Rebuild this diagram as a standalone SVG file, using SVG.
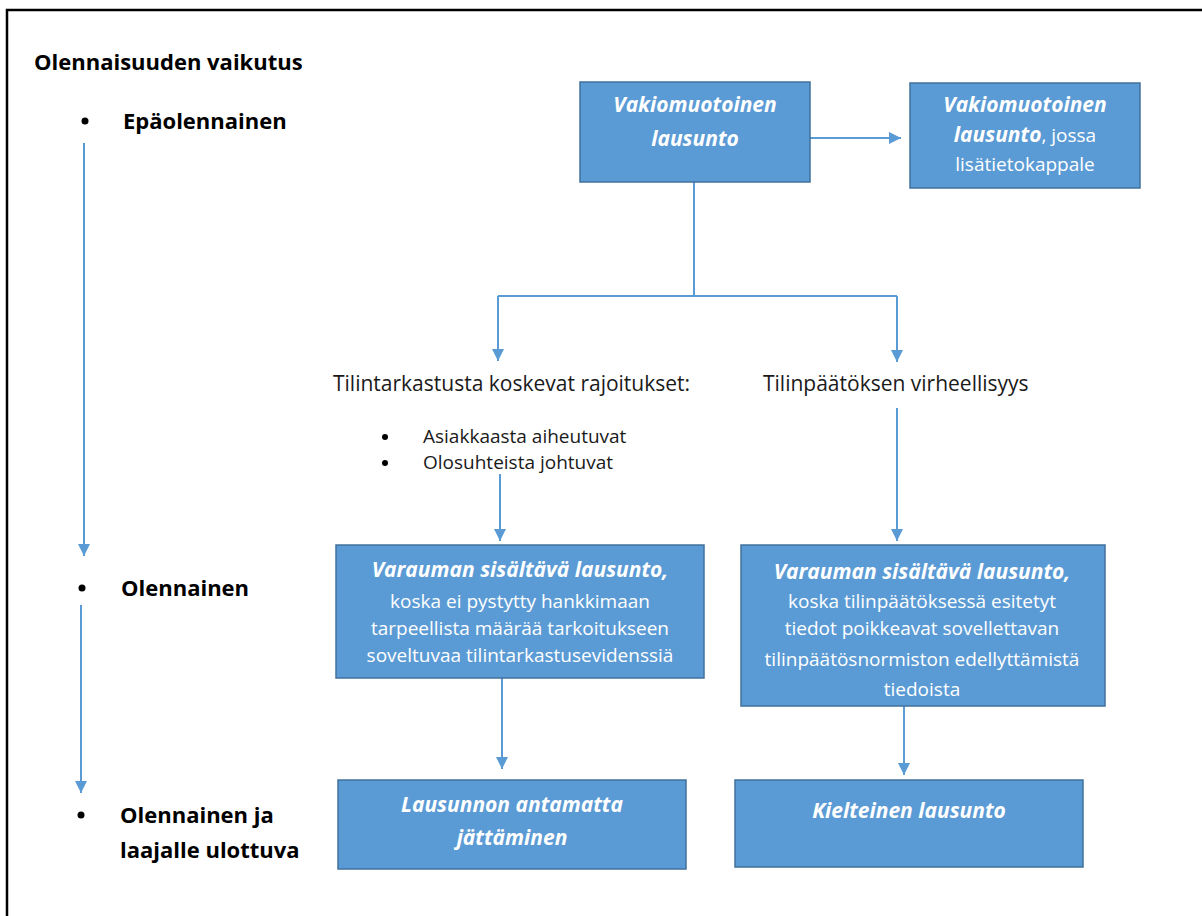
<svg xmlns="http://www.w3.org/2000/svg" width="1202" height="916" viewBox="0 0 1202 916">
<style>
.box{fill:#5B9BD5;stroke:#41719C;stroke-width:1.5}
.bt{font-family:"Open Sans","Liberation Sans",sans-serif;fill:#fff;font-size:19px;text-anchor:middle}
.bi{font-weight:bold;font-style:italic;font-size:21px}
.lt{font-family:"Open Sans","Liberation Sans",sans-serif;fill:#1a1a1a;font-size:21px}
.ls{font-family:"Open Sans","Liberation Sans",sans-serif;fill:#1a1a1a;font-size:19px}
.hd{font-family:"Open Sans","Liberation Sans",sans-serif;fill:#000;font-size:22px;font-weight:bold}
.ln{stroke:#5B9BD5;stroke-width:2;fill:none}
</style>
<defs>
<marker id="ah" viewBox="0 0 10 10" refX="10" refY="5" markerWidth="6" markerHeight="6" orient="auto" markerUnits="strokeWidth">
<path d="M0,0 L10,5 L0,10 z" fill="#5B9BD5"/>
</marker>
</defs>
<rect x="0" y="0" width="1202" height="916" fill="#fff"/>
<path d="M7,916 V10 H1202" fill="none" stroke="#000" stroke-width="2.5"/>

<g id="left-labels">
<text class="hd" x="34" y="70">Olennaisuuden vaikutus</text>
<circle cx="85" cy="121" r="3.5" fill="#000"/>
<text class="hd" x="123" y="129">Epäolennainen</text>
<circle cx="82" cy="588" r="3.5" fill="#000"/>
<text class="hd" x="121" y="596">Olennainen</text>
<circle cx="81" cy="815" r="3.5" fill="#000"/>
<text class="hd" x="120" y="823">Olennainen ja</text>
<text class="hd" x="120" y="858">laajalle ulottuva</text>
</g>

<g id="connectors">
<line class="ln" x1="84" y1="143" x2="84" y2="556" marker-end="url(#ah)"/>
<line class="ln" x1="81" y1="605" x2="81" y2="793" marker-end="url(#ah)"/>
<line class="ln" x1="810" y1="138" x2="901" y2="138" marker-end="url(#ah)"/>
<polyline class="ln" points="694,182 694,296"/>
<polyline class="ln" points="498,296 897,296"/>
<line class="ln" x1="498" y1="296" x2="498" y2="361" marker-end="url(#ah)"/>
<line class="ln" x1="897" y1="296" x2="897" y2="362" marker-end="url(#ah)"/>
<line class="ln" x1="500" y1="474" x2="500" y2="541" marker-end="url(#ah)"/>
<line class="ln" x1="897" y1="408" x2="897" y2="541" marker-end="url(#ah)"/>
<line class="ln" x1="502" y1="678" x2="502" y2="769" marker-end="url(#ah)"/>
<line class="ln" x1="904" y1="706" x2="904" y2="775" marker-end="url(#ah)"/>
</g>

<g id="node-vakio">
<rect class="box" x="580" y="82" width="230" height="100"/>
<text class="bt bi" x="695" y="112">Vakiomuotoinen</text>
<text class="bt bi" x="695" y="146">lausunto</text>
</g>

<g id="node-vakio-lisatieto">
<rect class="box" x="910" y="83" width="230" height="105"/>
<text class="bt bi" x="1025" y="112">Vakiomuotoinen</text>
<text class="bt" x="1025" y="142"><tspan class="bi">lausunto</tspan>, jossa</text>
<text class="bt" x="1025" y="171">lisätietokappale</text>
</g>

<g id="node-rajoitukset">
<text class="lt" x="333" y="391">Tilintarkastusta koskevat rajoitukset:</text>
<circle cx="385" cy="437" r="3" fill="#000"/>
<text class="ls" x="423" y="443">Asiakkaasta aiheutuvat</text>
<circle cx="385" cy="463" r="3" fill="#000"/>
<text class="ls" x="423" y="469">Olosuhteista johtuvat</text>
</g>

<g id="node-virheellisyys">
<text class="lt" x="763" y="391">Tilinpäätöksen virheellisyys</text>
</g>

<g id="node-varauma-1">
<rect class="box" x="336" y="545" width="368" height="133"/>
<text class="bt bi" x="520" y="577">Varauman sisältävä lausunto,</text>
<text class="bt" x="520" y="608">koska ei pystytty hankkimaan</text>
<text class="bt" x="520" y="635">tarpeellista määrää tarkoitukseen</text>
<text class="bt" x="520" y="662">soveltuvaa tilintarkastusevidenssiä</text>
</g>

<g id="node-varauma-2">
<rect class="box" x="741" y="545" width="364" height="161"/>
<text class="bt bi" x="922" y="579">Varauman sisältävä lausunto,</text>
<text class="bt" x="922" y="608">koska tilinpäätöksessä esitetyt</text>
<text class="bt" x="922" y="635">tiedot poikkeavat sovellettavan</text>
<text class="bt" x="922" y="666">tilinpäätösnormiston edellyttämistä</text>
<text class="bt" x="922" y="696">tiedoista</text>
</g>

<g id="node-antamatta">
<rect class="box" x="338" y="780" width="348" height="89"/>
<text class="bt bi" x="512" y="812">Lausunnon antamatta</text>
<text class="bt bi" x="512" y="845">jättäminen</text>
</g>

<g id="node-kielteinen">
<rect class="box" x="735" y="780" width="348" height="87"/>
<text class="bt bi" x="909" y="818">Kielteinen lausunto</text>
</g>
</svg>
